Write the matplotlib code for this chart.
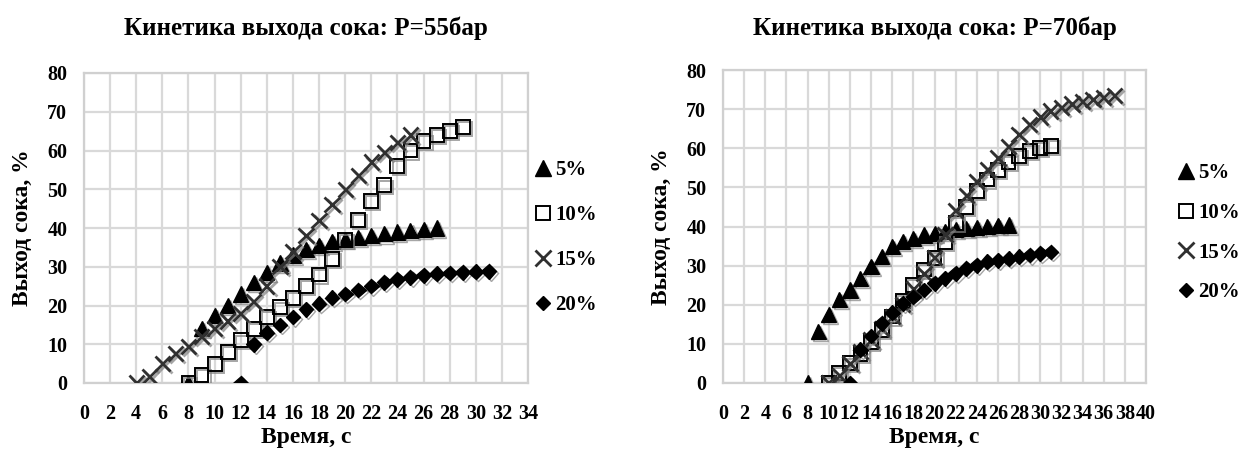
import matplotlib
matplotlib.use('Agg')
import matplotlib.pyplot as plt
import matplotlib.patheffects as pe
from matplotlib.lines import Line2D

plt.rcParams['font.family'] = ['Liberation Serif', 'DejaVu Serif']
plt.rcParams['font.weight'] = 'bold'

# P = 55 бар
x5_55 = list(range(8, 28))
y5_55 = [0, 14, 17.5, 20, 23, 26, 28.5, 31, 33, 34.5, 35.5, 36.5, 37, 37.5, 38, 38.5, 39, 39.3, 39.6, 40]
x10_55 = list(range(8, 30))
y10_55 = [0, 2, 5, 8, 11, 14, 17, 19.5, 22, 25, 28, 32, 37, 42, 47, 51, 56, 60, 62.5, 64, 65, 66]
x15_55 = list(range(4, 26))
y15_55 = [0, 1.6, 5, 7.7, 9.5, 12, 14, 16, 18, 21, 25, 30, 34, 38, 42, 46, 50, 53.5, 57, 59.5, 62, 64]
x20_55 = list(range(12, 32))
y20_55 = [0, 10, 13, 15, 17, 19, 20.5, 22, 23, 24, 25, 26, 26.8, 27.3, 27.8, 28.2, 28.4, 28.6, 28.7, 28.8]

# P = 70 бар
x5_70 = list(range(8, 28))
y5_70 = [0, 13.2, 17.6, 21.3, 23.8, 26.8, 29.8, 32.3, 34.9, 36.2, 37, 37.8, 38.3, 38.8, 39.2, 39.5, 39.8, 40, 40.2, 40.4]
x10_70 = list(range(10, 32))
y10_70 = [0, 2.5, 5, 7.5, 10.5, 13.5, 17, 21, 25, 29, 32, 36, 41, 45, 49, 52, 54.5, 56.5, 58, 59.3, 60, 60.5]
x15_70 = list(range(10, 38))
y15_70 = [0, 2, 5, 8, 11, 14, 17, 20, 24, 28, 32, 38, 44, 48, 51.5, 54.5, 57.5, 60.5, 63.5, 66,
          68, 69.5, 70.5, 71.3, 72, 72.5, 73, 73.5]
x20_70 = list(range(12, 32))
y20_70 = [0, 8.5, 12, 15.3, 18, 20.4, 22, 23.8, 25.5, 26.8, 28, 29.3, 30.1, 31, 31.4, 31.8, 32.3, 32.7, 33.1, 33.5]

labels = ['5%', '10%', '15%', '20%']
styles = [
    dict(marker='^', markersize=11, color='black', markerfacecolor='black', markeredgecolor='black'),
    dict(marker='s', markersize=10, color='black', markerfacecolor='none', markeredgecolor='black', markeredgewidth=1.4),
    dict(marker='x', markersize=11, color='#303030', markeredgewidth=2),
    dict(marker='D', markersize=7.5, color='black', markerfacecolor='black', markeredgecolor='black'),
]
shadow = [pe.SimpleLineShadow(offset=(1.5, -1.5), shadow_color='gray', alpha=0.7), pe.Normal()]

fig = plt.figure(figsize=(12.45, 4.57), dpi=100)

panels = [
    dict(rect=[84 / 1245, 74 / 457, 444 / 1245, 310 / 457], xmax=34,
         data=[(x5_55, y5_55), (x10_55, y10_55), (x15_55, y15_55), (x20_55, y20_55)],
         title='Кинетика выхода сока: P=55бар', leg=(1.01, 0.47), lspace=1.2,
         ylab_x=22 / 1245),
    dict(rect=[723 / 1245, 74 / 457, 423 / 1245, 313 / 457], xmax=40,
         data=[(x5_70, y5_70), (x10_70, y10_70), (x15_70, y15_70), (x20_70, y20_70)],
         title='Кинетика выхода сока: P=70бар', leg=(1.07, 0.48), lspace=0.95,
         ylab_x=661 / 1245),
]

for p in panels:
    ax = fig.add_axes(p['rect'])
    for (xs, ys), st in zip(p['data'], styles):
        ax.plot(xs, ys, linestyle='none', path_effects=shadow, **st, zorder=3)
    ax.set_xlim(0, p['xmax'])
    ax.set_ylim(0, 80)
    ax.set_xticks(range(0, p['xmax'] + 1, 2))
    ax.set_yticks(range(0, 81, 10))
    ax.grid(True, color='#d9d9d9', linewidth=1.6)
    ax.set_axisbelow(True)
    for s in ax.spines.values():
        s.set_color('#d0d0d0')
        s.set_linewidth(1.6)
    ax.tick_params(axis='both', length=0, labelsize=14.5)
    ax.tick_params(axis='x', pad=15)
    ax.tick_params(axis='y', pad=12)
    for t in ax.get_xticklabels() + ax.get_yticklabels():
        t.set_fontweight('bold')

    x0, y0, w, h = p['rect']
    fig.text(x0 + w / 2, 1 - 28 / 457, p['title'], ha='center', va='center',
             fontsize=18, fontweight='bold')
    fig.text(x0 + w / 2, 1 - 437 / 457, 'Время, с', ha='center', va='center',
             fontsize=17, fontweight='bold')
    fig.text(p['ylab_x'], y0 + h / 2, 'Выход сока, %', ha='center', va='center',
             rotation=90, fontsize=17, fontweight='bold')

    handles = [Line2D([], [], linestyle='none', **st) for st in styles]
    ax.legend(handles, labels, loc='center left', bbox_to_anchor=p['leg'],
              frameon=False, handletextpad=0.1, handlelength=1.0,
              labelspacing=p['lspace'], borderaxespad=0, borderpad=0,
              prop=dict(family='Liberation Serif', weight='bold', size=15))

fig.savefig('out.png', dpi=100)
